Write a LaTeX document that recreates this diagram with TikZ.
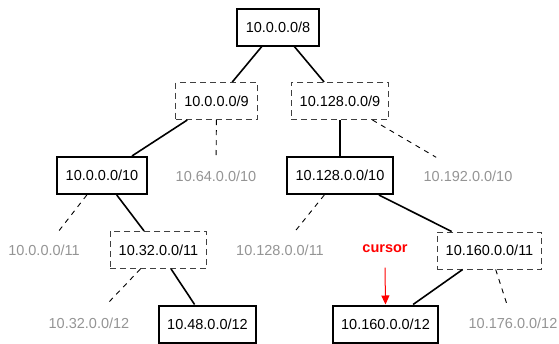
\documentclass[tikz,border=0pt]{standalone}
\usepackage{fontspec}
\setmainfont{Liberation Sans}
\usetikzlibrary{arrows.meta}
\begin{document}
\begin{tikzpicture}[x=1pt,y=-1pt,
  every node/.style={font=\fontsize{14.5}{17}\selectfont, inner xsep=8.5pt, minimum height=37pt, anchor=center},
  solidbox/.style={draw=black, line width=2pt},
  dashbox/.style={draw=black!75, line width=1pt, dash pattern=on 6pt off 4pt},
  ghost/.style={text=black!42},
  treeedge/.style={line width=1.6pt, black},
  ghostedge/.style={line width=0.9pt, black, dash pattern=on 5pt off 5pt},
  curs/.style={text=red, font=\fontsize{14.5}{17}\selectfont\bfseries}
]
\useasboundingbox (0,0) rectangle (559,343);
\node[solidbox] (root) at (278,27) {10.0.0.0/8};
\node[dashbox] (n9a) at (216.5,101) {10.0.0.0/9};
\node[dashbox] (n9b) at (340,101) {10.128.0.0/9};
\node[solidbox] (n10a) at (102,175.5) {10.0.0.0/10};
\node[ghost] (l64) at (216,176) {10.64.0.0/10};
\node[solidbox] (n10b) at (340,175.5) {10.128.0.0/10};
\node[ghost] (l192) at (468,176) {10.192.0.0/10};
\node[ghost] (l011) at (44,250) {10.0.0.0/11};
\node[dashbox] (n32) at (158.5,250) {10.32.0.0/11};
\node[ghost] (l12811) at (280,250) {10.128.0.0/11};
\node[curs] (cursor) at (385,249) {cursor};
\node[dashbox] (n16011) at (489.5,250.5) {10.160.0.0/11};
\node[ghost] (l3212) at (89,323) {10.32.0.0/12};
\node[solidbox] (n48) at (207.5,324) {10.48.0.0/12};
\node[solidbox] (n16012) at (385.5,324) {10.160.0.0/12};
\node[ghost] (l176) at (513,323) {10.176.0.0/12};

\draw[treeedge] (root) -- (n9a);
\draw[treeedge] (root) -- (n9b);
\draw[treeedge] (n9a) -- (n10a);
\draw[ghostedge] (n9a) -- (l64);
\draw[treeedge] (n9b) -- (n10b);
\draw[ghostedge] (n9b) -- (l192);
\draw[ghostedge] (n10a) -- (l011);
\draw[treeedge] (n10a) -- (n32);
\draw[ghostedge] (n10b) -- (l12811);
\draw[treeedge] (n10b) -- (n16011);
\draw[ghostedge] (n32) -- (l3212);
\draw[treeedge] (n32) -- (n48);
\draw[treeedge] (n16011) -- (n16012);
\draw[ghostedge] (n16011) -- (l176);
\draw[red, line width=1pt, -{Triangle[length=9pt,width=8pt]}] (cursor.south) -- (n16012.north);
\end{tikzpicture}
\end{document}
